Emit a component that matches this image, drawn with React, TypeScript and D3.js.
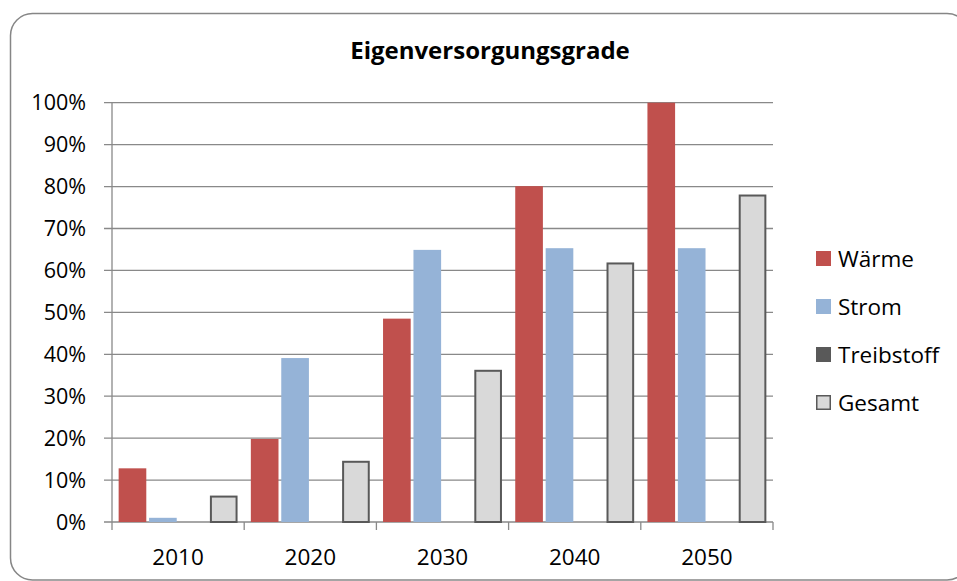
import React from "react";
import * as d3 from "d3";

const categories = ["2010", "2020", "2030", "2040", "2050"];
const seriesNames = ["Wärme", "Strom", "Treibstoff", "Gesamt"];
const waerme = [0.128, 0.198, 0.485, 0.801, 1.0];
const strom = [0.01, 0.391, 0.649, 0.653, 0.653];
const treibstoff = [0, 0, 0, 0, 0];
const gesamt = [0.063, 0.146, 0.363, 0.619, 0.781];
const yTicks = [0, 0.1, 0.2, 0.3, 0.4, 0.5, 0.6, 0.7, 0.8, 0.9, 1.0];
const title = "Eigenversorgungsgrade";

const colors = ["#C0504D", "#95B3D7", "#595959", "#D9D9D9"];
const strokes = ["none", "none", "none", "#595959"];

export default function App() {
  const W = 957, H = 581;
  const left = 112, right = 773, top = 102.7, bottom = 522;
  const font = "'Open Sans', 'Noto Sans', sans-serif";
  const values = [waerme, strom, treibstoff, gesamt];

  const x0 = d3.scaleBand().domain(categories).range([left, right]).paddingInner(0).paddingOuter(0);
  const y = d3.scaleLinear().domain([0, 1]).range([bottom, top]);
  const cw = x0.bandwidth();
  const bw = cw / 4.78;
  const gap = bw * 0.1;
  const offset = (cw - (4 * bw + 3 * gap)) / 2;

  return (
    <svg width={W} height={H} style={{ position: "absolute", left: 0, top: 0, fontFamily: font }}>
      <rect x={0} y={0} width={W} height={H} fill="#fff" />
      <rect x={10.5} y={13.5} width={958.5} height={566.5} rx={22} ry={22} fill="#fff" stroke="#868686" strokeWidth={1.5} />
      <text x={490} y={59} textAnchor="middle" fontWeight="bold" fontSize={24} fill="#000">{title}</text>
      {yTicks.map((t) => (
        <g key={t}>
          <line x1={104} x2={right} y1={y(t)} y2={y(t)} stroke="#898989" strokeWidth={1.3} />
          <text x={86} y={y(t) + 7.5} textAnchor="end" fontSize={21.5} fill="#000">{d3.format(".0%")(t)}</text>
        </g>
      ))}
      <line x1={left} x2={left} y1={top} y2={bottom + 8} stroke="#898989" strokeWidth={1.3} />
      {categories.map((c) => (
        <line key={"t" + c} x1={x0(c)! + cw} x2={x0(c)! + cw} y1={bottom} y2={bottom + 8} stroke="#898989" strokeWidth={1.3} />
      ))}
      {categories.map((c, i) => (
        <g key={c}>
          {values.map((vals, s) => {
            const v = vals[i];
            if (v <= 0) return null;
            const bx = x0(c)! + offset + s * (bw + gap);
            const sw = strokes[s] === "none" ? 0 : 2;
            return (
              <rect key={s} x={bx + sw / 2} y={y(v) + sw / 2} width={bw - sw} height={bottom - y(v) - sw / 2}
                fill={colors[s]} stroke={strokes[s]} strokeWidth={sw} />
            );
          })}
          <text x={x0(c)! + cw / 2} y={565} textAnchor="middle" fontSize={22.5} fill="#000">{c}</text>
        </g>
      ))}
      {seriesNames.map((n, s) => (
        <g key={n} transform={`translate(816, ${251 + s * 48})`}>
          <rect x={s === 3 ? 0.75 : 0} y={s === 3 ? 0.75 : 0} width={s === 3 ? 13.5 : 15} height={s === 3 ? 13.5 : 15}
            fill={colors[s]} stroke={strokes[s]} strokeWidth={s === 3 ? 1.5 : 0} />
          <text x={22} y={16} fontSize={22.5} fill="#000">{n}</text>
        </g>
      ))}
    </svg>
  );
}
